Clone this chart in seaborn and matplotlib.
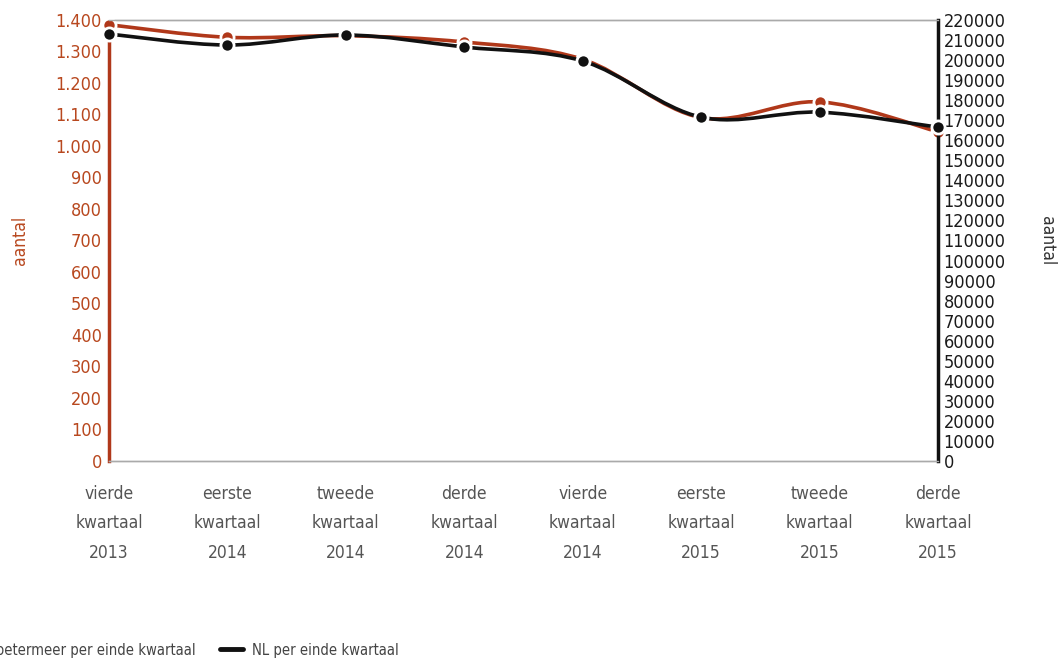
import numpy as np
import pandas as pd
import matplotlib
matplotlib.use('Agg')
import matplotlib.pyplot as plt
from matplotlib.path import Path
from matplotlib.patches import PathPatch
from matplotlib.lines import Line2D
from matplotlib.ticker import FuncFormatter
import seaborn as sns

# data
kwartalen = ['vierde\nkwartaal\n2013', 'eerste\nkwartaal\n2014', 'tweede\nkwartaal\n2014',
             'derde\nkwartaal\n2014', 'vierde\nkwartaal\n2014', 'eerste\nkwartaal\n2015',
             'tweede\nkwartaal\n2015', 'derde\nkwartaal\n2015']
zoetermeer = [1385, 1345, 1350, 1330, 1275, 1090, 1140, 1045]
nederland = [213000, 207500, 212500, 206500, 199500, 171500, 174000, 166500]

ROOD = '#b0381a'
ROOD_TXT = '#b8481f'
ZWART = '#111111'

sns.set_style('white')
plt.rcParams['font.family'] = ['DejaVu Sans']
plt.rcParams['font.stretch'] = 'condensed'

df = pd.DataFrame({'pos': np.arange(len(kwartalen)), 'zoetermeer': zoetermeer, 'nl': nederland})


def spline(ax, x, y, color):
    # smooth bezier through the points (catmull-rom)
    pts = np.column_stack([x, y]).astype(float)
    verts = [pts[0]]
    codes = [Path.MOVETO]
    n = len(pts)
    for i in range(n - 1):
        p0 = pts[i - 1] if i > 0 else pts[i]
        p1 = pts[i]
        p2 = pts[i + 1]
        p3 = pts[i + 2] if i + 2 < n else pts[i + 1]
        c1 = p1 + (p2 - p0) / 6.0
        c2 = p2 - (p3 - p1) / 6.0
        verts += [c1, c2, p2]
        codes += [Path.CURVE4] * 3
    ax.add_patch(PathPatch(Path(verts, codes), fill=False, edgecolor=color,
                           linewidth=2.6, zorder=3, capstyle='round', clip_on=False))


fig = plt.figure(figsize=(10.6, 6.59), dpi=100)
ax = fig.add_axes([0.1028, 0.3005, 0.7822, 0.6692])
ax2 = ax.twinx()

spline(ax, df['pos'], df['zoetermeer'], ROOD)
sns.scatterplot(data=df, x='pos', y='zoetermeer', ax=ax, color=ROOD, s=90,
                edgecolor='white', linewidth=2, zorder=4, clip_on=False)
spline(ax2, df['pos'], df['nl'], ZWART)
sns.scatterplot(data=df, x='pos', y='nl', ax=ax2, color=ZWART, s=90,
                edgecolor='white', linewidth=2, zorder=4, clip_on=False)

ax.set_xlim(0, len(kwartalen) - 1)
ax.set_ylim(0, 1400)
ax2.set_ylim(0, 220000)
ax.set_yticks(np.arange(0, 1401, 100))
ax2.set_yticks(np.arange(0, 220001, 10000))
ax.yaxis.set_major_formatter(FuncFormatter(lambda v, p: f'{int(v):,}'.replace(',', '.')))
ax2.yaxis.set_major_formatter(FuncFormatter(lambda v, p: f'{int(v)}'))
ax.set_xticks(df['pos'])
ax.set_xticklabels(kwartalen, linespacing=1.85)

ax.tick_params(axis='x', length=0, pad=17, labelsize=12.5, labelcolor='#555555')
ax.tick_params(axis='y', length=0, pad=5, labelsize=13, labelcolor=ROOD_TXT)
ax2.tick_params(axis='y', length=0, pad=4, labelsize=13, labelcolor='#1a1a1a')

for a in (ax, ax2):
    a.spines['top'].set_color('#aaaaaa')
    a.spines['bottom'].set_color('#aaaaaa')
    a.spines['top'].set_linewidth(1)
    a.spines['bottom'].set_linewidth(1)
    a.set_xlabel('')
ax2.spines['left'].set_visible(False)
ax.spines['right'].set_visible(False)
ax.spines['left'].set_color(ROOD)
ax.spines['left'].set_linewidth(2.5)
ax2.spines['right'].set_color(ZWART)
ax2.spines['right'].set_linewidth(2.5)

ax.set_ylabel('')
ax2.set_ylabel('')
fig.text(0.019, 0.635, 'aantal', rotation=90, color=ROOD_TXT, fontsize=12.5,
         ha='center', va='center')
fig.text(0.988, 0.635, 'aantal', rotation=270, color='#333333', fontsize=12.5,
         ha='center', va='center')

handles = [Line2D([], [], color=ROOD, lw=3.5), Line2D([], [], color=ZWART, lw=3.5)]
fig.legend(handles, ['Zoetermeer per einde kwartaal', 'NL per einde kwartaal'],
           loc='lower left', bbox_to_anchor=(-0.055, -0.018), ncol=2, frameon=False,
           fontsize=10.6, handlelength=1.6, handletextpad=0.6, columnspacing=1.6,
           labelcolor='#444444')

fig.savefig('out.png', dpi=100)
